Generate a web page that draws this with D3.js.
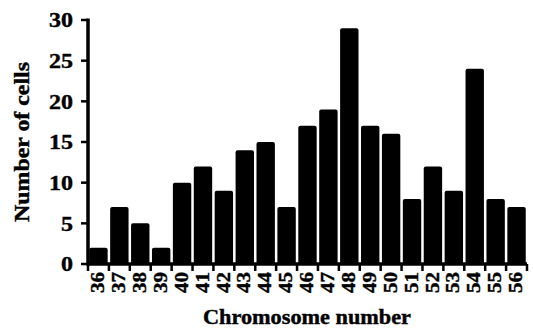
<!DOCTYPE html>
<html>
<head>
<meta charset="utf-8">
<script src="https://cdn.jsdelivr.net/npm/d3@7"></script>
<style>
  body { margin: 0; background: #fff; }
  text { font-family: "Liberation Serif", "Times New Roman", serif; font-weight: bold; fill: #000; stroke: #000; stroke-width: 0.4px; }
</style>
</head>
<body>
<div id="chart"></div>
<script>
const width = 533;
const height = 329;
const margin = { top: 20, right: 6, bottom: 65, left: 88 };

// data
const chromosomes = ['36', '37', '38', '39', '40', '41', '42', '43', '44', '45', '46',
    '47', '48', '49', '50', '51', '52', '53', '54', '55', '56'];
const cells = [2, 7, 5, 2, 10, 12, 9, 14, 15, 7, 17, 19, 29, 17, 16, 8, 12, 9, 24, 8, 7];
const yTicks = [0, 5, 10, 15, 20, 25, 30];

const svg = d3.select('#chart')
    .append('svg')
    .attr('width', width)
    .attr('height', height);

const x = d3.scaleBand()
    .domain(chromosomes)
    .range([margin.left, width - margin.right])
    .paddingInner(0.12)
    .paddingOuter(0.06);

const y = d3.scaleLinear()
    .domain([0, 30])
    .range([height - margin.bottom, margin.top]);

// bars
svg.append('g')
    .selectAll('path')
    .data(cells)
    .enter()
    .append('path')
    .attr('fill', '#000')
    .attr('d', (d, i) => {
        const x0 = x(chromosomes[i]);
        const w = x.bandwidth();
        const top = y(d);
        const base = y(0);
        const r = 2;
        return `M${x0},${base}V${top + r}Q${x0},${top} ${x0 + r},${top}H${x0 + w - r}Q${x0 + w},${top} ${x0 + w},${top + r}V${base}Z`;
    });

// y axis
const yAxis = svg.append('g')
    .attr('transform', `translate(${margin.left},0)`);

yAxis.append('line')
    .attr('x1', 0).attr('x2', 0)
    .attr('y1', y(30) - 1.5).attr('y2', y(0) + 1.5)
    .attr('stroke', '#000')
    .attr('stroke-width', 3.5);

yAxis.selectAll('.ytick')
    .data(yTicks)
    .enter()
    .append('line')
    .attr('x1', -7).attr('x2', 0)
    .attr('y1', d => y(d)).attr('y2', d => y(d))
    .attr('stroke', '#000')
    .attr('stroke-width', 2.5);

yAxis.selectAll('.ylabel')
    .data(yTicks)
    .enter()
    .append('text')
    .attr('x', -15)
    .attr('y', d => y(d))
    .attr('dy', '0.35em')
    .attr('text-anchor', 'end')
    .attr('textLength', d => String(d).length * 12)
    .attr('lengthAdjust', 'spacingAndGlyphs')
    .style('font-size', '21px')
    .text(d => d);

// x axis
const xAxis = svg.append('g')
    .attr('transform', `translate(0,${y(0)})`);

xAxis.append('line')
    .attr('x1', margin.left).attr('x2', width - margin.right)
    .attr('y1', 0).attr('y2', 0)
    .attr('stroke', '#000')
    .attr('stroke-width', 3.5);

const boundaries = chromosomes.map(c => x(c) - x.step() * x.paddingInner() / 2);
boundaries.push(width - margin.right);

xAxis.selectAll('.xtick')
    .data(boundaries)
    .enter()
    .append('line')
    .attr('x1', d => d).attr('x2', d => d)
    .attr('y1', 0).attr('y2', 7)
    .attr('stroke', '#000')
    .attr('stroke-width', 2.5);

xAxis.selectAll('.xlabel')
    .data(chromosomes)
    .enter()
    .append('text')
    .attr('transform', d => `translate(${x(d) + x.bandwidth() / 2 - 1},8) rotate(-90)`)
    .attr('dy', '0.35em')
    .attr('text-anchor', 'end')
    .attr('textLength', 21)
    .attr('lengthAdjust', 'spacingAndGlyphs')
    .style('font-size', '19px')
    .text(d => d);

// axis titles
svg.append('text')
    .attr('x', 307)
    .attr('y', 324)
    .attr('text-anchor', 'middle')
    .attr('textLength', 208)
    .attr('lengthAdjust', 'spacingAndGlyphs')
    .style('font-size', '20px')
    .text('Chromosome number');

svg.append('text')
    .attr('transform', 'translate(29,142) rotate(-90)')
    .attr('text-anchor', 'middle')
    .attr('textLength', 160)
    .attr('lengthAdjust', 'spacingAndGlyphs')
    .style('font-size', '20px')
    .text('Number of cells');
</script>
</body>
</html>
